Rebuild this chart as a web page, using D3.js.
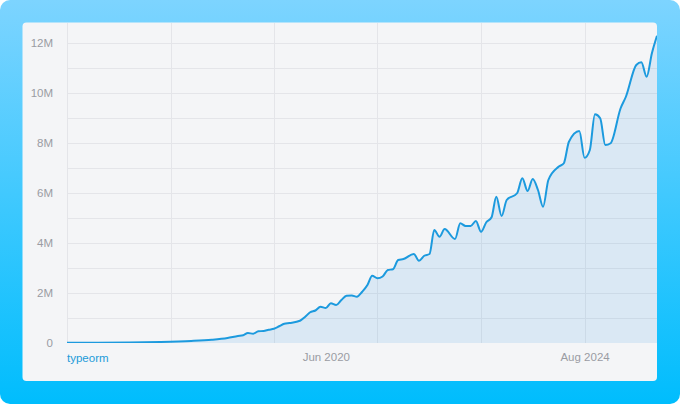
<!DOCTYPE html>
<html>
<head>
<meta charset="utf-8">
<script src="https://cdn.jsdelivr.net/npm/d3@7"></script>
<style>
  html, body { margin: 0; padding: 0; }
  body { width: 680px; height: 404px; overflow: hidden; }
  svg { display: block; font-family: "Helvetica Neue", "Liberation Sans", Arial, sans-serif; }
</style>
</head>
<body>
<svg id="chart"></svg>
<script>
// monthly downloads of the package (millions)
var months = ["2016-04","2016-10","2017-04","2017-10","2018-04","2018-08","2018-11",
  "2019-01","2019-02","2019-03","2019-04","2019-05","2019-06","2019-07","2019-08",
  "2019-09","2019-10","2019-11","2020-01","2020-02","2020-03","2020-04","2020-05",
  "2020-06","2020-07","2020-08","2020-09","2020-10","2020-11","2020-12","2021-01",
  "2021-02","2021-03","2021-04","2021-05","2021-06","2021-07","2021-08","2021-09",
  "2021-11","2021-12","2022-01","2022-02","2022-03","2022-04","2022-05","2022-07",
  "2022-08","2022-09","2022-10","2022-11","2022-12","2023-01","2023-02","2023-03",
  "2023-04","2023-05","2023-07","2023-08","2023-09","2023-10","2023-11","2023-12",
  "2024-01","2024-03","2024-04","2024-05","2024-07","2024-08","2024-09","2024-10",
  "2024-11","2024-12","2025-01","2025-03","2025-04","2025-06","2025-07","2025-08",
  "2025-09","2025-10"];
var downloads = [0.005,0.01,0.02,0.04,0.08,0.13,0.2,
  0.28,0.31,0.4,0.37,0.47,0.48,0.53,0.57,
  0.67,0.77,0.8,0.89,1.05,1.23,1.3,1.45,
  1.4,1.59,1.52,1.72,1.89,1.9,1.85,2.05,
  2.32,2.69,2.59,2.66,2.92,2.95,3.32,3.36,
  3.56,3.29,3.49,3.56,4.52,4.25,4.56,4.16,
  4.79,4.68,4.68,4.88,4.45,4.83,5.03,5.85,
  5.08,5.72,5.99,6.59,6.08,6.56,6.12,5.45,
  6.52,7.05,7.19,8.05,8.48,7.41,7.72,9.15,
  8.99,7.92,7.99,9.39,9.85,11.12,11.23,10.65,
  11.59,12.29];

var seriesName = "typeorm";
var yTicks = [0, 2, 4, 6, 8, 10, 12];
var yMinorTicks = [1, 3, 5, 7, 9, 11];
var xGridMonths = ["2016-04","2017-12","2019-08","2021-04","2022-12","2024-08"];
var xLabelMonths = ["2020-06","2024-08"];

var parseMonth = d3.timeParse("%Y-%m");

var drawChart = function(target) {
    var screen = {width:680, height:404};
    var card = {x:22.5, y:22.5, width:634.5, height:358.5};
    var plot = {left:67, right:657, top:23, bottom:343};

    var svg = d3.select(target)
        .attr("width", screen.width)
        .attr("height", screen.height);

    var defs = svg.append("defs");

    // background gradient
    var bg = defs.append("linearGradient")
        .attr("id", "bg")
        .attr("x1", 0).attr("y1", 0).attr("x2", 0).attr("y2", 1);
    bg.append("stop").attr("offset", "0%").attr("stop-color", "#7dd4ff");
    bg.append("stop").attr("offset", "100%").attr("stop-color", "#00bdfd");

    defs.append("clipPath").attr("id", "plotclip")
        .append("rect")
        .attr("x", plot.left).attr("y", plot.top)
        .attr("width", plot.right - plot.left)
        .attr("height", plot.bottom - plot.top);

    svg.append("rect")
        .attr("width", screen.width).attr("height", screen.height)
        .attr("rx", 10)
        .attr("fill", "url(#bg)");

    svg.append("rect")
        .attr("x", card.x).attr("y", card.y)
        .attr("width", card.width).attr("height", card.height)
        .attr("rx", 4)
        .attr("fill", "#f4f5f7");

    var data = months.map(function(m, i) {
        return {date: parseMonth(m), value: downloads[i]};
    });

    var xScale = d3.scaleTime()
        .domain([parseMonth("2016-04"), parseMonth("2025-10")])
        .range([plot.left, plot.right]);

    var yScale = d3.scaleLinear()
        .domain([0, 12.8])
        .range([plot.bottom, plot.top]);

    // grid
    var grid = svg.append("g").attr("stroke", "#e4e5e9").attr("stroke-width", 1);
    grid.selectAll(".hgrid")
        .data(yTicks.concat(yMinorTicks).filter(function(d) { return d > 0; }))
        .enter().append("line")
        .attr("x1", plot.left).attr("x2", plot.right)
        .attr("y1", function(d) { return Math.round(yScale(d)) + 0.5; })
        .attr("y2", function(d) { return Math.round(yScale(d)) + 0.5; });
    grid.selectAll(".vgrid")
        .data(xGridMonths)
        .enter().append("line")
        .attr("x1", function(d) { return Math.round(xScale(parseMonth(d))) + 0.5; })
        .attr("x2", function(d) { return Math.round(xScale(parseMonth(d))) + 0.5; })
        .attr("y1", plot.top).attr("y2", plot.bottom);

    var g = svg.append("g").attr("clip-path", "url(#plotclip)");

    var area = d3.area()
        .x(function(d) { return xScale(d.date); })
        .y0(plot.bottom)
        .y1(function(d) { return yScale(d.value); })
        .curve(d3.curveMonotoneX);

    var line = d3.line()
        .x(function(d) { return xScale(d.date); })
        .y(function(d) { return yScale(d.value); })
        .curve(d3.curveMonotoneX);

    g.append("path")
        .datum(data)
        .attr("d", area)
        .attr("fill", "#1f8fdc")
        .attr("fill-opacity", 0.12);

    g.append("path")
        .datum(data)
        .attr("d", line)
        .attr("fill", "none")
        .attr("stroke", "#1c9ade")
        .attr("stroke-width", 2)
        .attr("stroke-linejoin", "round");

    // y axis labels
    var yAxis = d3.axisLeft(yScale)
        .tickValues(yTicks)
        .tickSize(0)
        .tickPadding(14)
        .tickFormat(function(d) { return d === 0 ? "0" : d + "M"; });
    var ya = svg.append("g")
        .attr("transform", "translate(" + plot.left + ",0)")
        .call(yAxis);
    ya.select(".domain").remove();
    ya.selectAll("text")
        .attr("fill", "#9a9ca3")
        .attr("font-size", 11.5)
        .attr("font-family", "\"Helvetica Neue\", \"Liberation Sans\", Arial, sans-serif");

    // x axis labels
    var xAxis = d3.axisBottom(xScale)
        .tickValues(xLabelMonths.map(parseMonth))
        .tickSize(0)
        .tickPadding(10)
        .tickFormat(d3.timeFormat("%b %Y"));
    var xa = svg.append("g")
        .attr("transform", "translate(0," + plot.bottom + ")")
        .call(xAxis);
    xa.select(".domain").remove();
    xa.selectAll("text")
        .attr("fill", "#9a9ca3")
        .attr("font-size", 11.5)
        .attr("font-family", "\"Helvetica Neue\", \"Liberation Sans\", Arial, sans-serif");

    // legend
    svg.append("text")
        .text(seriesName)
        .attr("x", plot.left)
        .attr("y", 362)
        .attr("fill", "#229bd9")
        .attr("font-size", 11.5);
}

drawChart("#chart");
</script>
</body>
</html>
